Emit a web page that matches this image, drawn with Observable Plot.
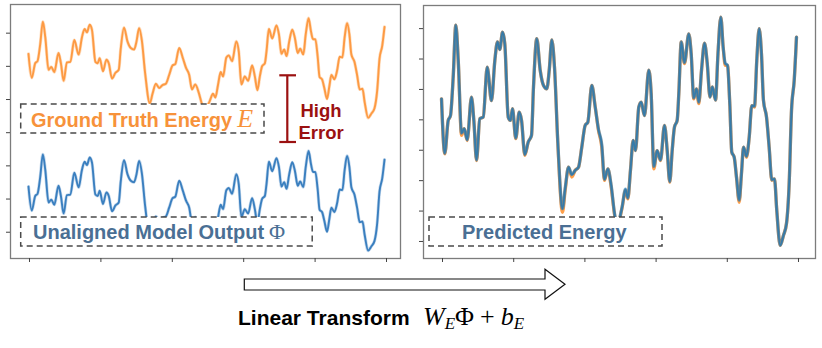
<!DOCTYPE html>
<html><head><meta charset="utf-8">
<script src="https://cdn.jsdelivr.net/npm/d3@7"></script>
<script src="https://cdn.jsdelivr.net/npm/@observablehq/plot@0.6"></script>
<style>
html,body{margin:0;padding:0;background:#fff;}
#wrap{position:relative;width:822px;height:348px;overflow:hidden;font-family:"Liberation Sans",Arial,sans-serif;}
#wrap > svg{position:absolute;background:transparent;}
#overlay{position:absolute;left:0;top:0;}
</style></head><body><div id="wrap"></div>
<script>
// ---- data ----
const steps = [-1.4,3.2,8.0,11.2,15.0,18.7,22.1,26.7,30.5,34.7,40.7,44.0,47.8,52.4,57.2,62.8,68.8,73.5,77.2,80.5,84.3,87.5,92.3,95.5,98.3,102.9,107.7,111.0,115.6,120.4,125.0,127.8,132.4,137.2,141.9,146.5,149.9,153.5,157.3,162.0,168.5,172.3,177.0,181.6,186.4,191.0,195.6,200.4,204.1,209.7,214.5,219.1,223.7,227.5,232.2,236.9,241.6,245.8,250.0,252.4,257.0,260.3,264.0,267.8,271.1,275.7,279.1,283.7,289.7,293.1,296.8,301.5,306.2,311.8,315.6,319.2,322.6,325.8,329.6,331.9,335.3,339.9,345.9,349.3,352.9,356.7,360.0,363.8,368.0,371.8,375.7,379.0,383.5,386.9,390.9,394.2,397.1,400.3,403.5,406.3,409.7,412.9,416.7,419.9,422.8,427.0,430.8,434.4,438.2,441.4,444.8,448.0,450.8,455.1,458.8,462.5,466.3,469.5,474.3,478.9,483.1,486.9,490.2,494.0,497.2];

const groundTruthE = [4.69,2.88,3.98,4.14,5.40,7.11,5.95,3.49,3.71,3.32,4.75,3.98,2.66,4.04,4.09,5.73,4.63,5.95,6.56,6.31,6.88,6.50,4.09,3.98,4.37,3.38,4.25,3.98,2.83,3.27,3.49,5.08,6.67,5.63,5.13,5.02,5.63,6.63,5.73,3.21,0.96,1.68,2.44,2.12,2.34,2.44,3.10,3.82,3.92,5.13,4.42,3.65,3.10,2.01,2.39,1.79,0.89,0.43,0.86,1.13,1.68,1.40,2.34,3.32,2.99,4.42,4.58,4.14,5.63,4.86,2.39,2.99,2.66,3.82,2.99,1.95,2.99,3.76,3.98,4.86,6.56,5.85,6.83,6.17,4.69,5.02,4.53,5.63,6.52,5.85,4.75,5.08,4.65,6.17,7.38,6.39,5.79,5.79,4.53,2.94,2.77,2.12,1.29,2.23,3.10,2.77,3.43,4.47,4.42,5.95,7.00,6.17,4.64,4.09,3.10,2.01,2.06,1.02,-0.13,0.20,0.58,1.90,4.31,5.30,6.72];

const predictedE = [4.69,2.90,3.98,4.14,5.40,7.11,5.95,3.56,3.71,3.34,4.75,3.98,2.68,4.04,4.09,5.73,4.63,5.95,6.56,6.31,6.88,6.50,4.09,3.98,4.37,3.40,4.25,3.98,2.86,3.27,3.49,5.08,6.67,5.63,5.13,5.02,5.63,6.63,5.73,3.24,1.08,1.75,2.44,2.20,2.34,2.44,3.10,3.82,3.92,5.13,4.42,3.68,3.18,2.04,2.39,1.85,0.92,0.46,0.88,1.15,1.72,1.43,2.34,3.32,2.99,4.42,4.58,4.14,5.63,4.86,2.47,2.99,2.68,3.82,2.99,1.97,2.99,3.76,3.98,4.86,6.56,5.88,6.83,6.17,4.72,5.02,4.58,5.63,6.52,5.88,4.75,5.08,4.65,6.17,7.38,6.39,5.86,5.79,4.53,2.94,2.77,2.12,1.36,2.23,3.10,2.80,3.43,4.47,4.45,5.95,7.00,6.17,4.64,4.09,3.10,2.03,2.06,1.02,-0.13,0.20,0.58,1.90,4.31,5.30,6.72];

const modelOutputPhi = [-5.31,-7.12,-6.02,-5.86,-4.60,-2.89,-4.05,-6.51,-6.29,-6.68,-5.25,-6.02,-7.34,-5.96,-5.91,-4.27,-5.37,-4.05,-3.44,-3.69,-3.12,-3.50,-5.91,-6.02,-5.63,-6.62,-5.75,-6.02,-7.17,-6.73,-6.51,-4.92,-3.33,-4.37,-4.87,-4.98,-4.37,-3.37,-4.27,-6.79,-9.04,-8.32,-7.56,-7.88,-7.66,-7.56,-6.90,-6.18,-6.08,-4.87,-5.58,-6.35,-6.90,-7.99,-7.61,-8.21,-9.11,-9.57,-9.14,-8.87,-8.32,-8.60,-7.66,-6.68,-7.01,-5.58,-5.42,-5.86,-4.37,-5.14,-7.61,-7.01,-7.34,-6.18,-7.01,-8.05,-7.01,-6.24,-6.02,-5.14,-3.44,-4.15,-3.17,-3.83,-5.31,-4.98,-5.47,-4.37,-3.48,-4.15,-5.25,-4.92,-5.35,-3.83,-2.62,-3.61,-4.21,-4.21,-5.47,-7.06,-7.23,-7.88,-8.71,-7.77,-6.90,-7.23,-6.57,-5.53,-5.58,-4.05,-3.00,-3.83,-5.36,-5.91,-6.90,-7.99,-7.94,-8.98,-10.13,-9.80,-9.42,-8.10,-5.69,-4.70,-3.28];

const xTicks = [0, 100, 200, 300, 400, 500];
const leftYTicks = [-8.75, -6.25, -3.75, -1.25, 1.25, 3.75, 6.25];
const rightYTicks = [0, 1, 2, 3, 4, 5, 6, 7];

const labelGround = "Ground Truth Energy";
const labelUnaligned = "Unaligned Model Output";
const labelPredicted = "Predicted Energy";
const labelHigh = "High";
const labelError = "Error";
const labelTransform = "Linear Transform";

// ---- build rows ----
const rows = steps.map((t, i) => ({t, e: groundTruthE[i], p: predictedE[i], phi: modelOutputPhi[i]}));

function panel(opts) {
  return Plot.plot({
    width: opts.width, height: opts.height,
    marginLeft: 10, marginRight: 2, marginTop: 2, marginBottom: 10,
    style: {background: "transparent"},
    x: {domain: opts.xDomain, label: null},
    y: {domain: opts.yDomain, label: null},
    marks: [
      ...opts.marks,
      Plot.frame({stroke: "#7c7c7c", strokeWidth: 1.3}),
      Plot.axisX(xTicks, {anchor: "bottom", tickSize: 4, tickFormat: () => "", stroke: "#444", label: null}),
      Plot.axisY(opts.yTicks, {anchor: "left", tickSize: 4, tickFormat: () => "", stroke: "#444", label: null})
    ]
  });
}

const wrap = document.getElementById("wrap");

const left = panel({
  width: 402, height: 266,
  xDomain: [-26.6, 519.6], yDomain: [-10.73, 8.41], yTicks: leftYTicks,
  marks: [
    Plot.lineY(rows, {x: "t", y: "e", stroke: "#fd9a43", strokeWidth: 3.2, strokeOpacity: 0.35, curve: "monotone-x"}),
    Plot.lineY(rows, {x: "t", y: "e", stroke: "#fd9a43", strokeWidth: 1.9, curve: "monotone-x"}),
    Plot.lineY(rows, {x: "t", y: "phi", stroke: "#3a7fbf", strokeWidth: 3.2, strokeOpacity: 0.3, curve: "monotone-x"}),
    Plot.lineY(rows, {x: "t", y: "phi", stroke: "#3a7fbf", strokeWidth: 1.9, curve: "monotone-x"})
  ]
});
left.style.left = "0px"; left.style.top = "2px";
wrap.appendChild(left);

const right = panel({
  width: 404, height: 265,
  xDomain: [-26.7, 523.9], yDomain: [-0.56, 7.76], yTicks: rightYTicks,
  marks: [
    Plot.lineY(rows, {x: "t", y: "e", stroke: "#ff7f0e", strokeWidth: 3.3, strokeOpacity: 0.75, curve: "monotone-x"}),
    Plot.lineY(rows, {x: "t", y: "p", stroke: "#1f77b4", strokeWidth: 3.3, strokeOpacity: 0.6, curve: "monotone-x"}),
    Plot.lineY(rows, {x: "t", y: "p", stroke: "#1f77b4", strokeWidth: 1.8, strokeOpacity: 0.75, curve: "monotone-x"})
  ]
});
right.style.left = "413px"; right.style.top = "3px";
wrap.appendChild(right);

// ---- annotation overlay ----
const ns = "http://www.w3.org/2000/svg";
const ov = document.createElementNS(ns, "svg");
ov.setAttribute("id", "overlay");
ov.setAttribute("width", 822); ov.setAttribute("height", 348);
const orange = "#f7923a", slate = "#4a6f94", red = "#9b1111";
const sans = "'Liberation Sans', Arial, sans-serif", serif = "'Liberation Serif', 'Times New Roman', serif";
ov.innerHTML = `
  <g fill="#fff" stroke="#4a4a4a" stroke-width="1.5" stroke-dasharray="6 4">
    <rect x="20.7" y="104" width="243.3" height="29"/>
    <rect x="20.7" y="217" width="291.5" height="29"/>
    <rect x="429" y="217" width="233" height="29"/>
  </g>
  <text x="31" y="126.5" font-family="${sans}" font-weight="bold" font-size="20" fill="${orange}">${labelGround}<tspan font-family="${serif}" font-style="italic" font-weight="normal" font-size="26" dx="5">E</tspan></text>
  <text x="33" y="238.5" font-family="${sans}" font-weight="bold" font-size="20" fill="${slate}">${labelUnaligned}<tspan font-family="${serif}" font-weight="normal" font-size="22" dx="5">Φ</tspan></text>
  <text x="462" y="238.5" font-family="${sans}" font-weight="bold" font-size="20" fill="${slate}">${labelPredicted}</text>
  <g stroke="${red}" stroke-width="2.2" fill="none">
    <line x1="287.3" y1="75.3" x2="287.3" y2="142"/>
    <line x1="279.3" y1="75.3" x2="296" y2="75.3"/>
    <line x1="279.3" y1="142" x2="296" y2="142"/>
  </g>
  <text x="300.5" y="116.5" font-family="${sans}" font-weight="bold" font-size="18.5" fill="${red}">${labelHigh}</text>
  <text x="298.5" y="139" font-family="${sans}" font-weight="bold" font-size="18.5" fill="${red}">${labelError}</text>
  <polygon points="244.3,279 545,279 545,269.3 565,284.3 545,299.3 545,290 244.3,290" fill="#fff" stroke="#111" stroke-width="1.2"/>
  <text x="238" y="325" font-family="${sans}" font-weight="bold" font-size="21" fill="#000">${labelTransform}</text>
  <text x="423" y="325" font-family="${serif}" font-size="26" fill="#000"><tspan font-style="italic">W</tspan><tspan font-style="italic" font-size="17" dy="4">E</tspan><tspan dy="-4">Φ</tspan><tspan dx="6">+</tspan><tspan font-style="italic" dx="6">b</tspan><tspan font-style="italic" font-size="17" dy="4">E</tspan></text>
`;
wrap.appendChild(ov);
</script>
</body></html>
